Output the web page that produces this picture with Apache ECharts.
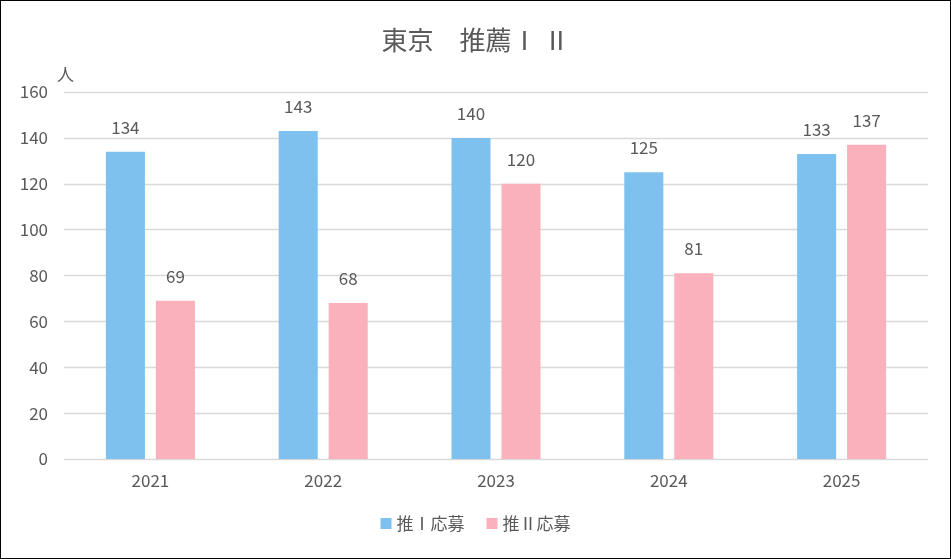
<!DOCTYPE html>
<html><head><meta charset="utf-8">
<script src="https://cdn.jsdelivr.net/npm/echarts@6/dist/echarts.min.js"></script>
<style>
html,body{margin:0;padding:0;background:#fff;}
#c{position:absolute;left:0;top:0;width:949px;height:557px;border:1px solid #000;}
</style></head><body>
<div id="c"></div>
<script>
const categories = ['2021','2022','2023','2024','2025'];
const seriesNames = ['推Ⅰ応募','推Ⅱ応募'];
const suiI = [134,143,140,125,133];
const suiII = [69,68,120,81,137];
const yTicks = {min:0,max:160,interval:20};
const font = '"Noto Sans CJK JP", "Noto Sans", sans-serif';
const chart = echarts.init(document.getElementById('c'));
chart.setOption({
  animation:false,
  title:{text:'東京　推薦Ⅰ Ⅱ',left:'center',top:21,textStyle:{fontFamily:font,fontSize:26,fontWeight:'normal',color:'#595959'}},
  legend:{bottom:21,left:'center',itemWidth:11,itemHeight:11,itemGap:22,icon:'rect',textStyle:{fontFamily:font,fontSize:17,color:'#595959'}},
  grid:{left:63,right:22,top:91,bottom:99,containLabel:false},
  xAxis:{type:'category',data:categories,axisTick:{show:false},axisLine:{lineStyle:{color:'#d9d9d9'}},
    axisLabel:{fontFamily:font,fontSize:17,color:'#595959',margin:13}},
  yAxis:{type:'value',min:yTicks.min,max:yTicks.max,interval:yTicks.interval,name:'人',nameGap:9,
    nameTextStyle:{fontFamily:font,fontSize:17,color:'#595959',align:'right',padding:[0,-10,0,0]},
    axisLabel:{fontFamily:font,fontSize:17,color:'#595959',margin:16},
    splitLine:{lineStyle:{color:'#d9d9d9',width:1.3}},axisLine:{show:false},axisTick:{show:false}},
  series:[
    {name:seriesNames[0],type:'bar',data:suiI,barWidth:'22.6%',barGap:'28%',itemStyle:{color:'#7fc1ee'},
      label:{show:true,position:'top',distance:16,fontFamily:font,fontSize:17,color:'#595959'}},
    {name:seriesNames[1],type:'bar',data:suiII,barWidth:'22.6%',itemStyle:{color:'#fbb1bb'},
      label:{show:true,position:'top',distance:16,fontFamily:font,fontSize:17,color:'#595959'}}
  ]
});
</script></body></html>
